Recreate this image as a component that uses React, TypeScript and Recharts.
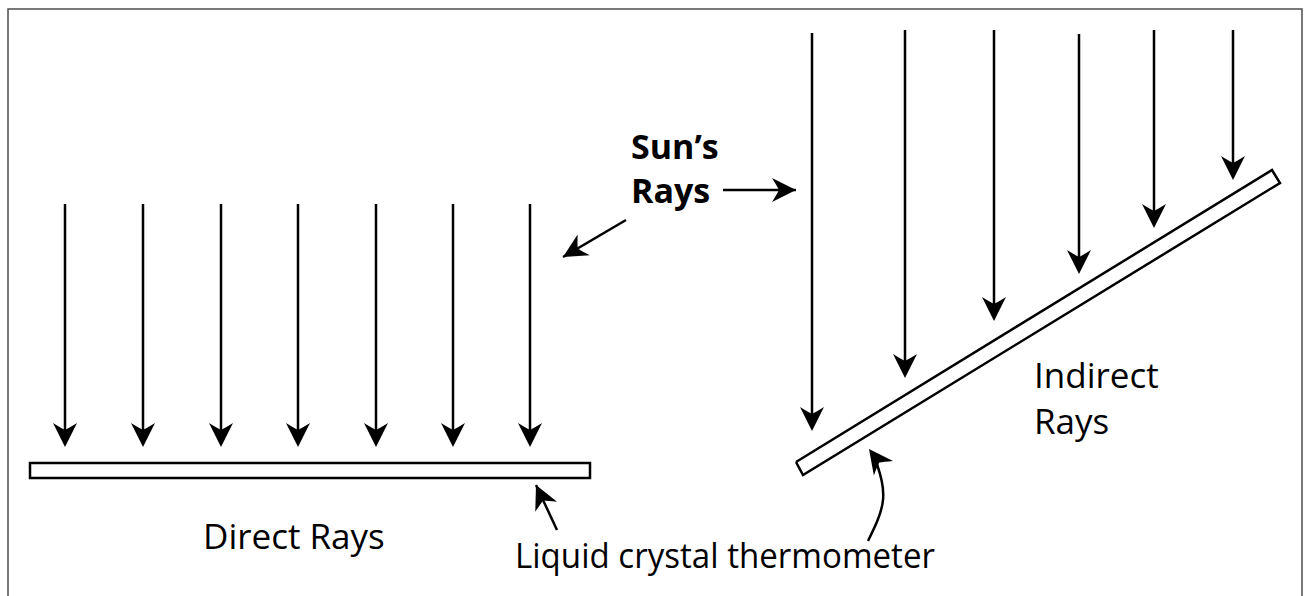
import * as React from "react";
import {
  ComposedChart,
  Line,
  Scatter,
  XAxis,
  YAxis,
  ReferenceLine,
  ReferenceArea,
} from "recharts";

// canvas in pixel units, y grows downward
const W = 1307;
const H = 596;

// straight-down rays over the flat thermometer
const directRayX = [65, 143, 221, 298, 376, 453, 530];
const directRayTop = 204;
const directRayTip = 447;

// rays hitting the tilted thermometer
const indirectRayX = [812, 905, 994, 1079, 1154, 1233];
const indirectRayTop = [33, 30, 30, 34, 30, 30];
const indirectRayTip = [431, 378, 321, 274, 228, 180];

// flat thermometer box
const flatBar = { x1: 30, x2: 590, y1: 463, y2: 478 };

// tilted thermometer corners (closed)
const tiltedBar = [
  { x: 796, y: 462 },
  { x: 1272, y: 170 },
  { x: 1280, y: 183 },
  { x: 803, y: 475 },
  { x: 796, y: 462 },
];

// frame (top is closed, bottom runs off the picture)
const frame = [
  { x: 8, y: 610 },
  { x: 8, y: 9 },
  { x: 1302, y: 9 },
  { x: 1302, y: 610 },
];

// pointer arrows: tail -> tip
const pointers = [
  { from: { x: 723, y: 190 }, to: { x: 796, y: 190 } },
  { from: { x: 626, y: 220 }, to: { x: 563, y: 257 } },
  { from: { x: 557, y: 530 }, to: { x: 536, y: 485 } },
];

// curved pointer under the tilted bar
const curve = [
  { x: 868, y: 541 },
  { x: 883, y: 500 },
  { x: 876, y: 461 },
];
const curveTip = { x: 869, y: 449 };

const labels = [
  { x: 631, y: 159, text: "Sun’s", bold: true },
  { x: 631, y: 203, text: "Rays", bold: true },
  { x: 203, y: 549, text: "Direct Rays", bold: false },
  { x: 515, y: 568, text: "Liquid crystal thermometer", bold: false },
  { x: 1034, y: 388, text: "Indirect", bold: false },
  { x: 1034, y: 434, text: "Rays", bold: false },
];
// the original font is narrower than Open Sans; squeeze the long line
const labelLength: Record<string, number> = {
  "Liquid crystal thermometer": 420,
};

const FONT = "'Open Sans', 'Noto Sans', sans-serif";
const SW = 2.5;

const deg = (a: { x: number; y: number }, b: { x: number; y: number }) =>
  (Math.atan2(b.y - a.y, b.x - a.x) * 180) / Math.PI;

const heads = [
  ...directRayX.map((x) => ({ x, y: directRayTip, angle: 90 })),
  ...indirectRayX.map((x, i) => ({ x, y: indirectRayTip[i], angle: 90 })),
  ...pointers.map((p) => ({ x: p.to.x, y: p.to.y, angle: deg(p.from, p.to) })),
  { x: curveTip.x, y: curveTip.y, angle: -127 },
];

const Arrowhead = (props: any) => {
  const { cx, cy, payload } = props;
  return (
    <path
      d="M0,0 L-24,-12 Q-19,-4 -17,0 Q-19,4 -24,12 Z"
      transform={`translate(${cx},${cy}) rotate(${payload.angle})`}
      fill="#000"
    />
  );
};

const TextMark = (props: any) => {
  const { cx, cy, payload } = props;
  const len = labelLength[payload.text];
  return (
    <text
      x={cx}
      y={cy}
      fontFamily={FONT}
      fontSize={payload.bold ? 34 : 35}
      fontWeight={payload.bold ? 700 : 400}
      fill="#000"
      textLength={len}
      lengthAdjust={len ? "spacingAndGlyphs" : undefined}
    >
      {payload.text}
    </text>
  );
};

// line stops a bit short of the tip so the head covers it
const shaft = (x: number, top: number, tip: number) => [
  { x, y: top },
  { x, y: tip - 12 },
];

export default function App() {
  return (
    <div
      style={{
        position: "absolute",
        left: 0,
        top: 0,
        width: W,
        height: H,
        background: "#fff",
        overflow: "hidden",
      }}
    >
      <ComposedChart
        width={W}
        height={H}
        margin={{ top: 0, right: 0, bottom: 0, left: 0 }}
      >
        <XAxis
          type="number"
          dataKey="x"
          domain={[0, W]}
          allowDataOverflow
          hide
        />
        <YAxis
          type="number"
          dataKey="y"
          domain={[0, H]}
          allowDataOverflow
          reversed
          hide
        />

        <Line
          data={frame}
          dataKey="y"
          stroke="#4d4d4d"
          strokeWidth={1.5}
          dot={false}
          activeDot={false}
          legendType="none"
          isAnimationActive={false}
        />

        {directRayX.map((x) => (
          <ReferenceLine
            key={`d${x}`}
            segment={shaft(x, directRayTop, directRayTip)}
            stroke="#000"
            strokeWidth={SW}
          />
        ))}
        {indirectRayX.map((x, i) => (
          <ReferenceLine
            key={`i${x}`}
            segment={shaft(x, indirectRayTop[i], indirectRayTip[i])}
            stroke="#000"
            strokeWidth={SW}
          />
        ))}
        {pointers.map((p, i) => (
          <ReferenceLine
            key={`p${i}`}
            segment={[p.from, p.to]}
            stroke="#000"
            strokeWidth={SW}
          />
        ))}

        <ReferenceArea
          x1={flatBar.x1}
          x2={flatBar.x2}
          y1={flatBar.y1}
          y2={flatBar.y2}
          fill="#fff"
          fillOpacity={1}
          stroke="#000"
          strokeWidth={SW}
        />

        <Line
          data={tiltedBar}
          dataKey="y"
          type="linear"
          stroke="#000"
          strokeWidth={SW}
          strokeLinejoin="miter"
          dot={false}
          activeDot={false}
          legendType="none"
          isAnimationActive={false}
        />

        <Line
          data={curve}
          dataKey="y"
          type="natural"
          stroke="#000"
          strokeWidth={SW}
          dot={false}
          activeDot={false}
          legendType="none"
          isAnimationActive={false}
        />

        <Scatter data={heads} shape={Arrowhead} isAnimationActive={false} />
        <Scatter data={labels} shape={TextMark} isAnimationActive={false} />
      </ComposedChart>
    </div>
  );
}
